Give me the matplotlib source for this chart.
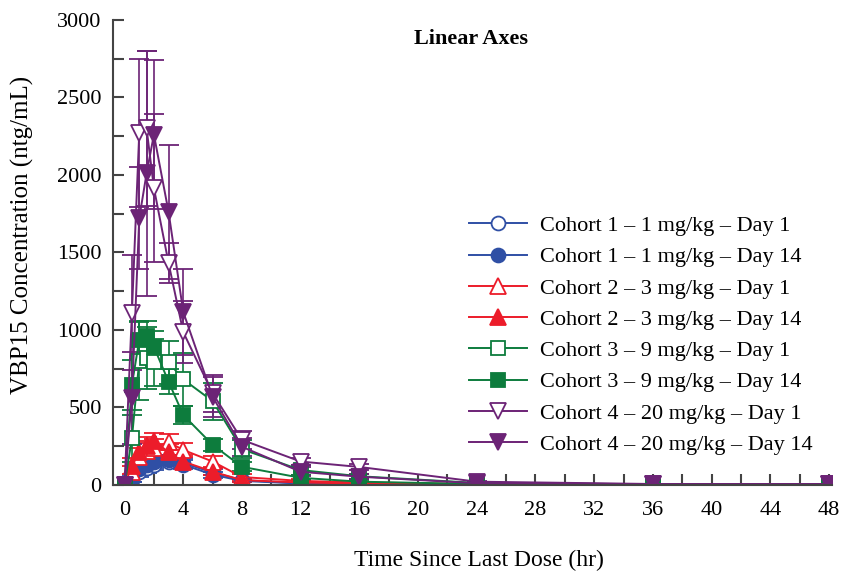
import numpy as np
import matplotlib.pyplot as plt
from matplotlib.ticker import MultipleLocator

plt.rcParams["font.family"] = ["Liberation Serif", "DejaVu Serif"]

# sampling times (hr)
hours = [0, 0.5, 1, 1.5, 2, 3, 4, 6, 8, 12, 16, 24, 36, 48]

# mean concentrations (ntg/mL)
c1_d1 = [0, 30, 80, 110, 130, 150, 140, 80, 30, 10, 5, 2, 1, 1]
c1_d14 = [0, 40, 100, 130, 150, 160, 130, 65, 25, 8, 4, 1, 1, 1]
c2_d1 = [0, 80, 180, 220, 235, 275, 225, 150, 50, 25, 15, 5, 2, 1]
c2_d14 = [0, 120, 210, 250, 285, 210, 150, 85, 30, 15, 8, 3, 1, 1]
c3_d1 = [0, 300, 800, 820, 790, 790, 680, 540, 230, 95, 55, 12, 3, 2]
c3_d14 = [0, 645, 935, 960, 890, 665, 450, 258, 116, 45, 20, 5, 2, 2]
c4_d1 = [0, 1110, 2270, 2300, 1915, 1430, 985, 590, 290, 150, 115, 20, 5, 5]
c4_d14 = [0, 560, 1720, 2010, 2260, 1760, 1115, 568, 245, 84, 52, 10, 4, 4]

# standard deviations
c1_d1_sd = [0, 15, 30, 35, 35, 30, 30, 20, 10, 4, 2, 1, 0, 0]
c1_d14_sd = [0, 20, 35, 40, 40, 35, 30, 20, 10, 4, 2, 1, 0, 0]
c2_d1_sd = [0, 40, 60, 60, 60, 50, 45, 35, 20, 10, 6, 2, 1, 0]
c2_d14_sd = [0, 50, 60, 60, 50, 50, 40, 25, 15, 8, 4, 2, 1, 0]
c3_d1_sd = [0, 150, 250, 200, 150, 140, 170, 120, 60, 30, 15, 5, 1, 1]
c3_d14_sd = [0, 160, 120, 100, 100, 80, 60, 40, 30, 15, 8, 3, 1, 1]
c4_d1_sd = [0, 370, 480, 500, 480, 130, 200, 120, 60, 25, 20, 5, 2, 2]
c4_d14_sd = [0, 300, 330, 790, 480, 430, 280, 130, 60, 30, 15, 5, 2, 2]

labels = ["Cohort 1 \u2013 1 mg/kg \u2013 Day 1", "Cohort 1 \u2013 1 mg/kg \u2013 Day 14",
          "Cohort 2 \u2013 3 mg/kg \u2013 Day 1", "Cohort 2 \u2013 3 mg/kg \u2013 Day 14",
          "Cohort 3 \u2013 9 mg/kg \u2013 Day 1", "Cohort 3 \u2013 9 mg/kg \u2013 Day 14",
          "Cohort 4 \u2013 20 mg/kg \u2013 Day 1", "Cohort 4 \u2013 20 mg/kg \u2013 Day 14"]

blue = "#2f4fa5"
red = "#ec1c2a"
green = "#0d7c3d"
purple = "#6c2376"

series = [
    (c1_d1, c1_d1_sd, blue, "o", False),
    (c1_d14, c1_d14_sd, blue, "o", True),
    (c2_d1, c2_d1_sd, red, "^", False),
    (c2_d14, c2_d14_sd, red, "^", True),
    (c3_d1, c3_d1_sd, green, "s", False),
    (c3_d14, c3_d14_sd, green, "s", True),
    (c4_d1, c4_d1_sd, purple, "v", False),
    (c4_d14, c4_d14_sd, purple, "v", True),
]

fig = plt.figure(figsize=(8.42, 5.71), dpi=100)
ax = fig.add_axes([0.134, 0.151, 0.854, 0.814])

for (vals, sd, col, mk, filled), lab in zip(series, labels):
    ms = 10 if mk in ("o", "s") else 11
    ax.errorbar(hours, vals, yerr=sd, color=col, marker=mk, markersize=ms,
                markerfacecolor=col if filled else "white", markeredgecolor=col,
                markeredgewidth=1.3, linewidth=1.4, elinewidth=1.2, capsize=7,
                capthick=1.2, label=lab)

ax.set_xlim(-0.8, 48.2)
ax.set_ylim(0, 3000)
ax.xaxis.set_major_locator(MultipleLocator(4))
ax.xaxis.set_minor_locator(MultipleLocator(2))
ax.yaxis.set_major_locator(MultipleLocator(500))
ax.yaxis.set_minor_locator(MultipleLocator(250))
ax.tick_params(which="both", direction="in", width=1.5, color="#444444", labelsize=16)
ax.tick_params(which="major", length=8)
ax.tick_params(which="minor", length=8)
ax.tick_params(axis="y", pad=8)
ax.tick_params(axis="x", pad=12)
for s in ["top", "right"]:
    ax.spines[s].set_visible(False)
for s in ["left", "bottom"]:
    ax.spines[s].set_color("#444444")
    ax.spines[s].set_linewidth(1.5)

# axis titles placed in figure coordinates
fig.text(479 / 842, 1 - 560 / 571, "Time Since Last Dose (hr)", fontsize=17,
         ha="center", va="center")
fig.text(22 / 842, 1 - 235 / 571, "VBP15 Concentration (ntg/mL)", fontsize=18,
         ha="center", va="center", rotation=90)
ax.text(0.498, 0.96, "Linear Axes", transform=ax.transAxes, ha="center", va="center",
        fontsize=16, fontweight="bold")

handles, labs = ax.get_legend_handles_labels()
handles = [h[0] for h in handles]
leg = ax.legend(handles, labs, loc="upper left", bbox_to_anchor=(0.483, 0.598),
                frameon=False, fontsize=16, handlelength=2.6, labelspacing=0.48,
                handletextpad=0.6, borderaxespad=0)

fig.savefig("out.png", dpi=100)
